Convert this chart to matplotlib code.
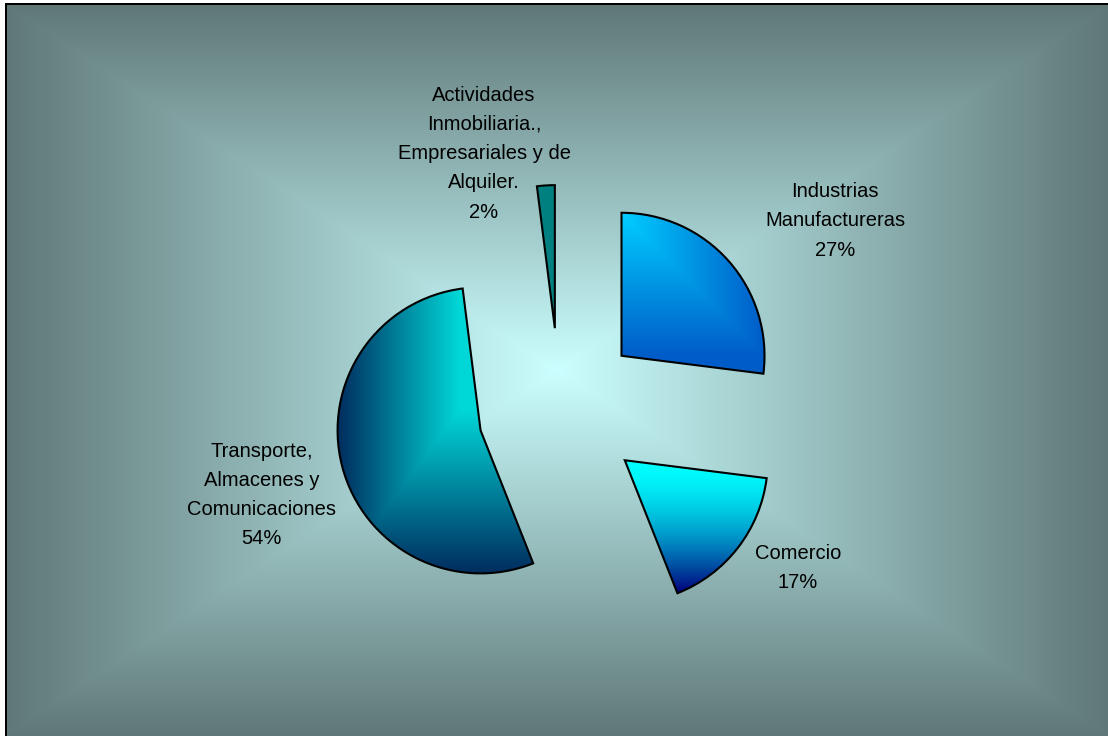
import numpy as np
import matplotlib
matplotlib.use("Agg")
import matplotlib.pyplot as plt

# ---------------- data ----------------
categories = [
    "Industrias\nManufactureras",
    "Comercio",
    "Transporte,\nAlmacenes y\nComunicaciones",
    "Actividades\nInmobiliaria.,\nEmpresariales y de\nAlquiler.",
]
shares = [27, 17, 54, 2]

# ---------------- layout / style ----------------
W, H = 1108, 736
FONT = ["Liberation Sans", "DejaVu Sans"]
FONT_SIZE = 14.5
LINE_STEP = 29.2                       # px between text baselines
# first-line baseline of each label (pixel coords, y measured from top)
label_anchor = [(835, 197.3), (798, 559.0), (261.3, 456.7), (484, 100.7)]
PIE_CENTER_PX = (560, 410)
PIE_RADIUS = 143
EXPLODE = 82

fig = plt.figure(figsize=(W / 100, H / 100), dpi=100)
ax = fig.add_axes([0, 0, 1, 1])

# ---------------- background: rectangular "from centre" gradient ----------------
yy, xx = np.mgrid[0:H, 0:W] + 0.5
gx, gy, ghw, ghh = 557.0, 370.0, 552.0, 366.0
t = np.clip(np.maximum(np.abs(xx - gx) / ghw, np.abs(yy - gy) / ghh), 0, 1)
c_in = np.array([204, 255, 255]) / 255.0
c_out = np.array([95, 119, 119]) / 255.0
bg = c_in + (c_out - c_in) * t[..., None]
# frame: white margin and black top/left border
bg[0:3, :] = 1.0
bg[:, 0:5] = 1.0
bg[3:5, 5:] = 0.0
bg[3:, 5:7] = 0.0
ax.imshow(bg, extent=(0, W, 0, H), origin="upper", zorder=0, interpolation="nearest")

# ---------------- pie ----------------
wedges, _ = ax.pie(
    shares,
    explode=[EXPLODE] * len(shares),
    startangle=90,
    counterclock=False,
    radius=PIE_RADIUS,
    center=(PIE_CENTER_PX[0], H - PIE_CENTER_PX[1]),
    wedgeprops=dict(edgecolor="black", linewidth=1.5),
)


def grad_colors(t, c0, c1):
    c0 = np.array(c0) / 255.0
    c1 = np.array(c1) / 255.0
    return c0 + (c1 - c0) * np.clip(t, 0, 1)[..., None]


for i, w in enumerate(wedges):
    cx, cy = w.center
    r = w.r
    n = int(2 * r) + 2
    xs = np.linspace(cx - r, cx + r, n)
    ys = np.linspace(cy + r, cy - r, n)      # top row first
    X, Y = np.meshgrid(xs, ys)
    dx = (X - cx) / r
    dy = (Y - cy) / r                        # positive upward
    if i == 0:      # from top-left corner
        tt = np.maximum(dx, 1 - dy)
        img = grad_colors(tt, (0, 206, 255), (0, 92, 200))
    elif i == 1:    # top to bottom
        tt = np.clip(-dy / 0.91, 0, 1) ** 1.6
        img = grad_colors(tt, (0, 255, 255), (0, 10, 128))
    elif i == 2:
        tt = np.maximum((-0.15 - dx) / 0.85, (0.14 - dy) / 1.14)
        img = grad_colors(tt, (0, 215, 215), (0, 45, 95))
    else:
        img = grad_colors(np.zeros_like(dx), (0, 128, 128), (0, 128, 128))
    im = ax.imshow(img, extent=(cx - r, cx + r, cy - r, cy + r), origin="upper",
                   zorder=1.5, interpolation="bilinear")
    im.set_clip_path(w)
    w.set_facecolor("none")
    w.set_zorder(2)

# ---------------- labels ----------------
for i, (lx, ly) in enumerate(label_anchor):
    lines = categories[i].split("\n") + [f"{shares[i]}%"]
    for k, line in enumerate(lines):
        ax.text(lx, H - (ly + k * LINE_STEP), line, ha="center", va="baseline",
                fontsize=FONT_SIZE, family=FONT, color="black", zorder=3)

ax.set_xlim(0, W)
ax.set_ylim(0, H)
ax.set_aspect("auto")
ax.axis("off")

fig.savefig("out.png", dpi=100)
